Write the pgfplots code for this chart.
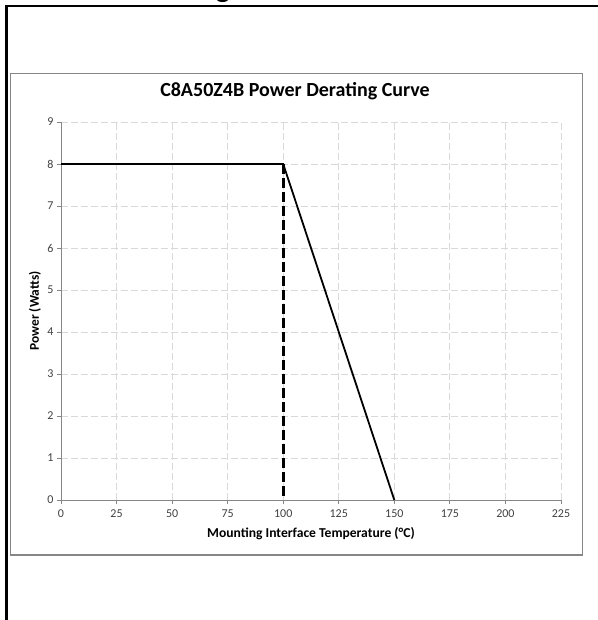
\documentclass[border=0pt]{standalone}
\usepackage{fontspec}
\setmainfont{Carlito}
\usepackage{pgfplots}
\pgfplotsset{compat=1.18}
\definecolor{axgray}{HTML}{868686}
\definecolor{gridgray}{HTML}{D9D9D9}
\definecolor{labgray}{HTML}{404040}
\begin{document}
\begin{tikzpicture}
% picture frame: axis origin at (0,0); the page is 597 x 620 pt
\useasboundingbox (-61pt,500pt) rectangle (536pt,-120pt);
% page frame, cut off at the right and bottom
\draw[line width=2.5pt] (-54.5pt,-130pt) -- (-54.5pt,494pt) -- (550pt,494pt);
\node[font=\bfseries\fontsize{30}{32}\selectfont, anchor=base] at (162pt,502pt) {g};
% chart area
\draw[axgray, line width=1pt] (-50pt,426pt) rectangle (521pt,-55pt);

\begin{axis}[
  scale only axis, width=500pt, height=378pt,
  xmin=0, xmax=225, ymin=0, ymax=9,
  xtick={0,25,...,225}, ytick={0,1,...,9},
  axis x line*=bottom, axis y line*=left,
  axis line style={axgray, line width=0.8pt},
  tick style={axgray, line width=0.8pt},
  tick align=outside, major tick length=4pt,
  grid=major,
  major grid style={gridgray, line width=0.8pt, dash pattern=on 7pt off 3pt},
  /pgf/number format/assume math mode=true,
  tick label style={font=\fontsize{12}{13}\selectfont, text=labgray},
  xticklabel style={yshift=-2pt},
  title={C8A50Z4B Power Derating Curve},
  title style={font=\bfseries\fontsize{20}{22}\selectfont, at={(axis description cs:0.468,1.0503)}, anchor=base},
  xlabel={Mounting Interface Temperature (°C)},
  xlabel style={font=\bfseries\fontsize{13.6}{15}\selectfont, at={(axis description cs:0.5,-0.0979)}, anchor=base},
  ylabel={Power (Watts)},
  ylabel style={font=\bfseries\fontsize{13.4}{15}\selectfont, at={(axis description cs:-0.052,0.5)}, anchor=center},
  clip=false,
]
\addplot[black, line width=1.8pt] coordinates {(0,8) (100,8) (150,0)};
\addplot[black, line width=2.6pt, dash pattern=on 10pt off 4pt] coordinates {(100,8) (100,0)};
\end{axis}
\end{tikzpicture}
\end{document}
